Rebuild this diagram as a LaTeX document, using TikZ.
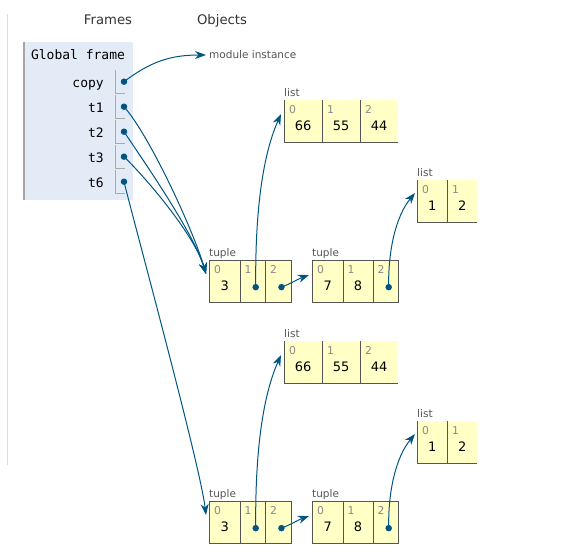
\documentclass[tikz,border=0pt]{standalone}
\usepackage{fontspec}
\setmainfont{DejaVu Sans}
\newfontfamily\codefont{DejaVu Sans Mono}
\usetikzlibrary{arrows.meta}

\definecolor{ptr}{HTML}{005583}
\definecolor{heapfill}{HTML}{FFFFC6}
\definecolor{framefill}{HTML}{E2EBF6}
\definecolor{cellrule}{HTML}{555555}
\definecolor{idxgray}{HTML}{8A8A8A}
\definecolor{typegray}{HTML}{555555}
\definecolor{headgray}{HTML}{333333}
\definecolor{slotrule}{HTML}{AAAAAA}
\definecolor{framerule}{HTML}{A6A6A6}
\definecolor{seprule}{HTML}{DDDDDD}

\tikzset{
  cellbox/.style={rectangle, inner sep=0pt, minimum height=42pt, anchor=north west},
  tuplecell/.style={cellbox, fill=heapfill, draw=cellrule, line width=0.9pt},
  listcell/.style={cellbox, fill=heapfill},
  listrule/.style={draw=cellrule, line width=0.9pt},
  idxlabel/.style={inner sep=0pt, anchor=north west, font=\fontsize{10.8}{12}\selectfont, text=idxgray},
  vallabel/.style={inner sep=0pt, font=\fontsize{13}{14}\selectfont},
  typelabel/.style={inner sep=0pt, anchor=base west, font=\fontsize{10.5}{12}\selectfont, text=typegray},
  header/.style={inner sep=0pt, anchor=base, font=\fontsize{13.2}{15}\selectfont, text=headgray},
  varname/.style={inner sep=0pt, anchor=base east, font=\codefont\fontsize{13}{15}\selectfont},
  slot/.style={draw=slotrule, line width=0.9pt},
  ptrdot/.style={circle, fill=ptr, inner sep=0pt, minimum size=6.5pt},
  ref/.style={draw=ptr, line width=1pt, -{Stealth[length=11pt,width=8pt,inset=3.5pt]}},
}

% tuple cell: name, x, y, width, index, value
\newcommand{\tuplecellat}[6]{%
  \node[tuplecell, minimum width=#4pt] (#1) at (#2,{#3}) {};
  \node[idxlabel] at ([shift={(5pt,-5pt)}]#1.north west) {#5};
  \node[vallabel] at ([yshift=-4.5pt]#1.center) {#6};
}
% list cell: name, x, y, width, index, value (left and bottom rules only)
\newcommand{\listcellat}[6]{%
  \node[listcell, minimum width=#4pt] (#1) at (#2,{#3}) {};
  \draw[listrule] (#1.north west) -- (#1.south west) -- (#1.south east);
  \node[idxlabel] at ([shift={(5pt,-5pt)}]#1.north west) {#5};
  \node[vallabel] at ([yshift=-4.5pt]#1.center) {#6};
}

% one nested structure: (3, [66, 55, 44], (7, 8, [1, 2]))
% #1 name prefix, #2 vertical offset
\newcommand{\heapgroup}[2]{%
  % list [66, 55, 44]
  \node[typelabel] (#1Ltype) at (284,{96+#2}) {list};
  \listcellat{#1L0}{284}{100+#2}{38}{0}{66}
  \listcellat{#1L1}{322}{100+#2}{38}{1}{55}
  \listcellat{#1L2}{360}{100+#2}{38}{2}{44}
  % list [1, 2]
  \node[typelabel] (#1Stype) at (417,{176+#2}) {list};
  \listcellat{#1S0}{417}{180+#2}{30}{0}{1}
  \listcellat{#1S1}{447}{180+#2}{30}{1}{2}
  % outer tuple
  \node[typelabel] (#1Atype) at (209,{256+#2}) {tuple};
  \tuplecellat{#1A0}{209}{260+#2}{30.5}{0}{3}
  \tuplecellat{#1A1}{239.5}{260+#2}{25.5}{1}{}
  \tuplecellat{#1A2}{265}{260+#2}{26}{2}{}
  % inner tuple
  \node[typelabel] (#1Btype) at (312,{256+#2}) {tuple};
  \tuplecellat{#1B0}{312}{260+#2}{30.5}{0}{7}
  \tuplecellat{#1B1}{342.5}{260+#2}{30}{1}{8}
  \tuplecellat{#1B2}{372.5}{260+#2}{25.5}{2}{}
  % references held in the tuples
  \node[ptrdot] (#1dA1) at ([shift={(3pt,-5.7pt)}]#1A1.center) {};
  \node[ptrdot] (#1dA2) at ([shift={(3pt,-5.7pt)}]#1A2.center) {};
  \node[ptrdot] (#1dB2) at ([shift={(3pt,-5.7pt)}]#1B2.center) {};
  \coordinate (#1inL) at ([shift={(-3pt,-14pt)}]#1L0.north west);
  \coordinate (#1inS) at ([shift={(-2pt,-13pt)}]#1S0.north west);
  \coordinate (#1inB) at ([shift={(-3pt,-15pt)}]#1B0.north west);
  \coordinate (#1inA) at ([shift={(-3pt,-14pt)}]#1A0.north west);
  \draw[ref] (#1dA1.center) .. controls (255,{200+#2}) and (265,{150+#2}) .. (#1inL);
  \draw[ref] (#1dA2.center) .. controls (292,{283+#2}) and (298,{279+#2}) .. (#1inB);
  \draw[ref] (#1dB2.center) .. controls (388,{250+#2}) and (396,{216+#2}) .. (#1inS);
}

\begin{document}
\begin{tikzpicture}[x=1pt, y=-1pt]
  \useasboundingbox (0,0) rectangle (573,557);

  % separator at the left edge
  \draw[seprule, line width=1.2pt] (7.5,14) -- (7.5,465);

  % column headings
  \node[header] (hframes) at (108,24) {Frames};
  \node[header] (hobjects) at (222,24) {Objects};

  % global frame
  \node[rectangle, fill=framefill, inner sep=0pt, minimum width=110pt,
        minimum height=158pt, anchor=north west] (gframe) at (23,42) {};
  \draw[framerule, line width=1.6pt] ([xshift=0.8pt]gframe.north west) -- ([xshift=0.8pt]gframe.south west);
  \node[inner sep=0pt, font=\codefont\fontsize{13}{15}\selectfont] (gtitle) at (78,55) {Global frame};

  \foreach \nm/\i in {copy/0, t1/1, t2/2, t3/3, t6/4} {
    \node[varname] (n\nm) at (104,{81.7+25*\i+5.5}) {\nm};
    \draw[slot] (115.3,{81.7+25*\i-11.5}) -- (115.3,{81.7+25*\i+11.5}) -- (125,{81.7+25*\i+11.5});
    \node[ptrdot] (v\nm) at (124,{81.7+25*\i}) {};
  }

  % module object
  \node[inner sep=0pt, anchor=west, font=\fontsize{10.5}{12}\selectfont, text=typegray]
       (modinst) at (209,55) {module instance};
  \coordinate (modin) at ([xshift=-3pt]modinst.west);

  % the two heap structures
  \heapgroup{a}{0}
  \heapgroup{b}{241}

  % frame references
  \draw[ref] (vcopy.center) .. controls (150,62) and (170,55) .. (modin);
  \draw[ref] (vt1.center) .. controls (150,136) and (194,232) .. (ainA);
  \draw[ref] (vt2.center) .. controls (147,166) and (194,234) .. (ainA);
  \draw[ref] (vt3.center) .. controls (148,180) and (195,236) .. (ainA);
  \draw[ref] (vt6.center) .. controls (136,230) and (200,465) .. (binA);
\end{tikzpicture}
\end{document}
